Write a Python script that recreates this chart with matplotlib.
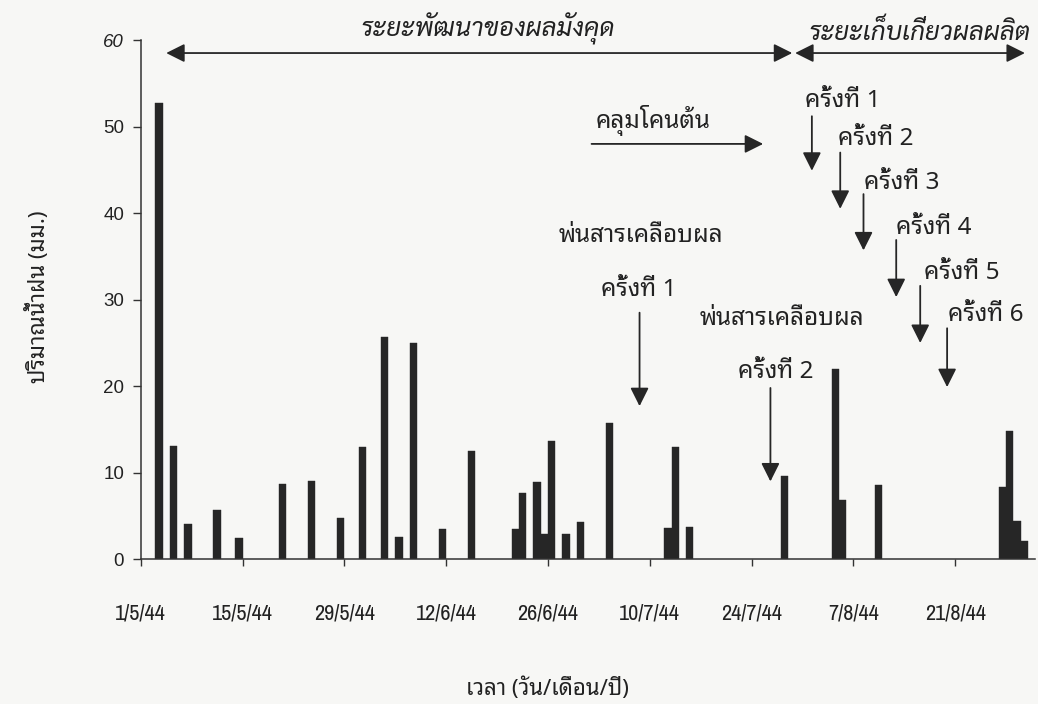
from datetime import datetime
import numpy as np
import matplotlib
matplotlib.use("Agg")
from matplotlib import pyplot as plt

# rainfall per day (mm)
rain_dates = ['3/5/2001', '5/5/2001', '7/5/2001', '11/5/2001', '14/5/2001', '20/5/2001',
              '24/5/2001', '28/5/2001', '31/5/2001', '3/6/2001', '5/6/2001', '7/6/2001',
              '11/6/2001', '15/6/2001', '21/6/2001', '22/6/2001', '24/6/2001', '25/6/2001',
              '26/6/2001', '28/6/2001', '30/6/2001', '4/7/2001', '12/7/2001', '13/7/2001',
              '15/7/2001', '28/7/2001', '4/8/2001', '5/8/2001', '10/8/2001', '27/8/2001',
              '28/8/2001', '29/8/2001', '30/8/2001']
rain_mm = [52.7, 13.1, 4.1, 5.7, 2.5, 8.7,
           9.0, 4.8, 13.0, 25.7, 2.6, 25.0,
           3.5, 12.5, 3.5, 7.7, 8.9, 2.9,
           13.7, 2.9, 4.3, 15.7, 3.6, 13.0,
           3.7, 9.6, 22.0, 6.9, 8.6, 8.4,
           14.8, 4.4, 2.1]
tick_labels = ['1/5/44', '15/5/44', '29/5/44', '12/6/44', '26/6/44',
               '10/7/44', '24/7/44', '7/8/44', '21/8/44']
harvest_labels = ['ครั้งที่ 1', 'ครั้งที่ 2', 'ครั้งที่ 3', 'ครั้งที่ 4', 'ครั้งที่ 5', 'ครั้งที่ 6']

start = datetime(2001, 5, 1)
days = [(datetime.strptime(d, '%d/%m/%Y') - start).days for d in rain_dates]

thai = ['Noto Sans Thai Looped', 'IBM Plex Sans Thai Looped', 'Noto Sans Thai', 'DejaVu Sans']
thai_it = ['Sarabun', 'Noto Sans Thai Looped', 'IBM Plex Sans Thai Looped', 'DejaVu Sans']
narrow = ['Liberation Sans Narrow', 'Archivo Narrow', 'Roboto Condensed', 'DejaVu Sans']
ink = '#262626'
txt = '#222222'
fs = 17.5

fig = plt.figure(figsize=(10.38, 7.04), dpi=100, facecolor='#f7f7f5')
ax = fig.add_axes([0.1356, 0.2055, 0.8616, 0.7376])
ax.set_facecolor('#f7f7f5')

ax.bar(days, rain_mm, width=1.0, align='edge', color=ink, edgecolor=ink, linewidth=0.3)

ax.set_xlim(0, 123)
ax.set_ylim(0, 60)
ax.set_yticks(np.arange(0, 61, 10))
ax.set_xticks(np.arange(0, 113, 14))
ax.set_xticklabels(tick_labels, family=narrow, fontsize=16)
for lab in ax.get_yticklabels():
    lab.set_family(['Liberation Sans', 'DejaVu Sans'])
    lab.set_fontsize(13.5)
ax.get_yticklabels()[-1].set_style('italic')

for s in ['top', 'right']:
    ax.spines[s].set_visible(False)
for s in ['left', 'bottom']:
    ax.spines[s].set_color('#333333')
    ax.spines[s].set_linewidth(1.1)
ax.tick_params(axis='y', direction='out', length=6, width=1.0, color='#333333', pad=6, labelcolor=txt)
ax.tick_params(axis='x', direction='out', length=5, width=1.0, color='#333333', pad=27, labelcolor=txt)

ax.set_ylabel('ปริมาณน้ำฝน (มม.)', family=thai, fontsize=16, color=txt, va='center', style='normal')
ax.yaxis.set_label_coords(-0.115, 0.505)
ax.set_xlabel('เวลา (วัน/เดือน/ปี)', family=thai, fontsize=16, color=txt, va='center', style='normal')
ax.xaxis.set_label_coords(0.455, -0.25)

arrow = dict(arrowstyle='-|>', color=ink, lw=1.3, mutation_scale=28, shrinkA=0, shrinkB=0)
dbl = dict(arrowstyle='<|-|>', color=ink, lw=1.3, mutation_scale=28, shrinkA=0, shrinkB=0)

# growth period / harvest period
ax.annotate('', xy=(3.5, 58.5), xytext=(89.6, 58.5), arrowprops=dbl, annotation_clip=False)
ax.annotate('', xy=(90.0, 58.5), xytext=(121.6, 58.5), arrowprops=dbl, annotation_clip=False)
ax.text(47.7, 61.3, 'ระยะพัฒนาของผลมังคุด', family=thai_it, style='italic', fontsize=18.5,
        ha='center', va='center', color=txt)
ax.text(107.1, 60.8, 'ระยะเก็บเกี่ยวผลผลิต', family=thai_it, style='italic', fontsize=18.5,
        ha='center', va='center', color=txt)

# ground cover
ax.text(70.5, 50.7, 'คลุมโคนต้น', family=thai, fontsize=fs, ha='center', va='center', color=txt)
ax.annotate('', xy=(85.6, 48.0), xytext=(62.0, 48.0), arrowprops=arrow)

# harvests
harvest_x = [92.3, 96.2, 99.4, 103.9, 107.2, 110.9]
harvest_top = [51.2, 47.0, 42.2, 36.9, 31.6, 26.7]
harvest_tip = [44.9, 40.5, 35.7, 30.3, 25.0, 19.9]
label_x = [96.6, 101.1, 104.7, 109.0, 112.9, 116.2]
label_y = [53.0, 48.6, 43.5, 38.3, 33.1, 28.2]
for i in range(6):
    ax.text(label_x[i], label_y[i], harvest_labels[i], family=thai, fontsize=fs,
            ha='center', va='center', color=txt)
    ax.annotate('', xy=(harvest_x[i], harvest_tip[i]), xytext=(harvest_x[i], harvest_top[i]),
                arrowprops=arrow)

# fruit coating sprays
ax.text(68.8, 37.4, 'พ่นสารเคลือบผล', family=thai, fontsize=fs, ha='center', va='center', color=txt)
ax.text(68.5, 31.1, 'ครั้งที่ 1', family=thai, fontsize=fs, ha='center', va='center', color=txt)
ax.annotate('', xy=(68.6, 17.7), xytext=(68.6, 28.5), arrowprops=arrow)
ax.text(88.2, 27.8, 'พ่นสารเคลือบผล', family=thai, fontsize=fs, ha='center', va='center', color=txt)
ax.text(87.4, 21.6, 'ครั้งที่ 2', family=thai, fontsize=fs, ha='center', va='center', color=txt)
ax.annotate('', xy=(86.6, 9.0), xytext=(86.6, 19.8), arrowprops=arrow)

fig.savefig('out.png', dpi=100, facecolor=fig.get_facecolor())
